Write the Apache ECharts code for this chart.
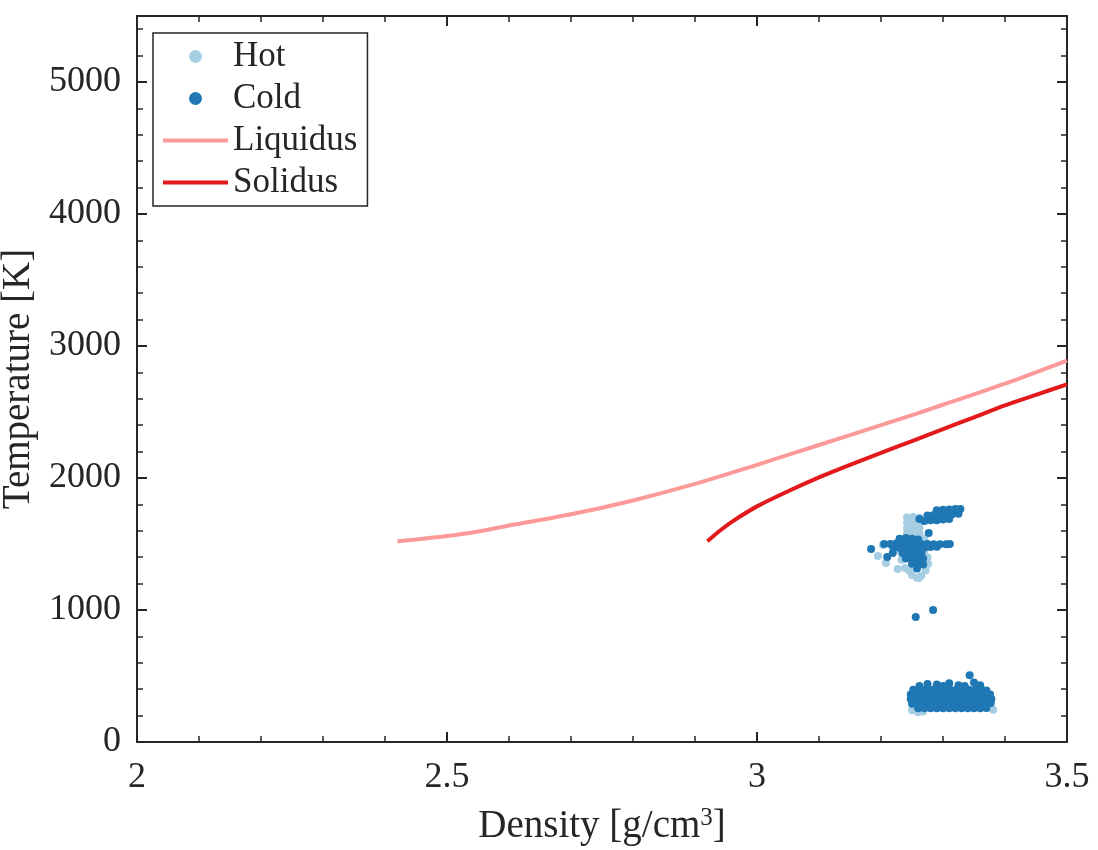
<!DOCTYPE html>
<html>
<head>
<meta charset="utf-8">
<script src="https://cdn.jsdelivr.net/npm/echarts@6/dist/echarts.min.js"></script>
<style>
  html, body { margin: 0; padding: 0; background: #fff; }
  #chart { width: 1098px; height: 850px; }
</style>
</head>
<body>
<div id="chart"></div>
<script>
// liquidus / solidus curves [density, temperature]
const liquidus = [
  [2.42, 1520], [2.5, 1560], [2.55, 1595], [2.6, 1640], [2.7, 1725], [2.8, 1830],
  [2.9, 1955], [3.0, 2100], [3.1, 2250], [3.2, 2400], [3.3, 2555], [3.4, 2715], [3.5, 2890]
]
const solidus = [
  [2.92, 1520], [2.94, 1600], [2.96, 1670], [3.0, 1785], [3.05, 1900], [3.1, 2005],
  [3.15, 2100], [3.2, 2190], [3.25, 2280], [3.3, 2370], [3.35, 2460], [3.4, 2550],
  [3.45, 2630], [3.5, 2710]
]

// hot particles (light blue)
const hot = [
  [3.242, 1700], [3.252, 1705], [3.262, 1700], [3.242, 1660], [3.252, 1660], [3.262, 1660],
  [3.242, 1620], [3.252, 1620], [3.262, 1620], [3.242, 1580], [3.252, 1580], [3.262, 1580],
  [3.245, 1540], [3.27, 1540], [3.27, 1450], [3.275, 1400], [3.276, 1350], [3.272, 1300],
  [3.265, 1260], [3.258, 1245], [3.245, 1300], [3.239, 1318], [3.227, 1311], [3.208, 1356],
  [3.195, 1409], [3.203, 1492], [3.25, 1265], [3.261, 1242], [3.233, 1380], [3.232, 1440],
  [3.25, 240], [3.26, 225], [3.268, 232], [3.256, 262], [3.381, 245], [3.372, 258]
]

// cold particles (dark blue)
const cold = [
  // upper group near 1700 K
  [3.262, 1690], [3.27, 1675], [3.28, 1680], [3.29, 1680], [3.30, 1685], [3.31, 1690],
  [3.275, 1715], [3.285, 1720], [3.295, 1720], [3.305, 1725], [3.315, 1725], [3.325, 1730],
  [3.29, 1755], [3.30, 1760], [3.31, 1762], [3.32, 1765], [3.328, 1765],
  // band near 1500 K
  [3.23, 1540], [3.24, 1545], [3.25, 1540], [3.26, 1535],
  [3.205, 1500], [3.215, 1500], [3.225, 1505], [3.235, 1505], [3.245, 1505], [3.255, 1500],
  [3.265, 1500], [3.275, 1500], [3.285, 1498], [3.295, 1498], [3.305, 1498], [3.311, 1500],
  [3.22, 1470], [3.23, 1470], [3.24, 1470], [3.25, 1470], [3.26, 1470], [3.27, 1472],
  [3.28, 1478], [3.29, 1480],
  [3.235, 1430], [3.245, 1430], [3.255, 1430], [3.265, 1430],
  [3.24, 1390], [3.25, 1390], [3.26, 1390], [3.268, 1390],
  [3.25, 1350], [3.26, 1350], [3.268, 1345], [3.258, 1315],
  [3.184, 1462], [3.21, 1401], [3.219, 1432], [3.277, 1583],
  [3.284, 1000], [3.256, 947],
  // lower group near 300 K
  [3.26, 255], [3.27, 255], [3.28, 255], [3.29, 255], [3.30, 255], [3.31, 255], [3.32, 255],
  [3.33, 255], [3.34, 255], [3.35, 255], [3.36, 255], [3.37, 258],
  [3.25, 290], [3.26, 290], [3.27, 290], [3.28, 290], [3.29, 290], [3.30, 290], [3.31, 290],
  [3.32, 290], [3.33, 290], [3.34, 290], [3.35, 290], [3.36, 290], [3.37, 290], [3.377, 295],
  [3.248, 325], [3.258, 325], [3.268, 325], [3.278, 325], [3.288, 325], [3.298, 325],
  [3.308, 325], [3.318, 325], [3.328, 325], [3.338, 325], [3.348, 325], [3.358, 325],
  [3.368, 325], [3.378, 325],
  [3.248, 360], [3.258, 360], [3.268, 360], [3.278, 360], [3.288, 360], [3.298, 360],
  [3.308, 360], [3.318, 360], [3.328, 360], [3.338, 360], [3.348, 360], [3.358, 360],
  [3.368, 360], [3.376, 360],
  [3.252, 395], [3.262, 395], [3.272, 395], [3.282, 395], [3.292, 395], [3.302, 395],
  [3.312, 395], [3.322, 395], [3.332, 395], [3.342, 395], [3.352, 395], [3.362, 395],
  [3.37, 390],
  [3.262, 425], [3.275, 440], [3.29, 435], [3.30, 425], [3.31, 445], [3.325, 430],
  [3.335, 425], [3.343, 505], [3.35, 450], [3.36, 430]
]

const xTicks = [2, 2.5, 3, 3.5]
const yTicks = [0, 1000, 2000, 3000, 4000, 5000]

const axisColor = '#262626'
const serif = 'Liberation Serif'
const lineIcon = 'path://M0,0H65V4H0Z'

const myChart = echarts.init(document.getElementById('chart'))

const xBase = {
  type: 'value',
  min: 2,
  max: 3.5,
  interval: 0.5,
  axisLine: { onZero: false, lineStyle: { color: axisColor, width: 2 } },
  axisTick: { inside: true, length: 10, lineStyle: { color: axisColor, width: 2 } },
  minorTick: { show: true, splitNumber: 5, length: 6, lineStyle: { color: axisColor, width: 1.5 } },
  splitLine: { show: false }
}
const yMajor = {
  type: 'value',
  min: 0,
  max: 5500,
  interval: 1000,
  axisLine: { onZero: false, lineStyle: { color: axisColor, width: 2 } },
  axisTick: { inside: true, length: 10, lineStyle: { color: axisColor, width: 2 } },
  splitLine: { show: false }
}
const yMinor = {
  type: 'value',
  min: 0,
  max: 5500,
  interval: 200,
  axisLine: { show: false },
  axisTick: { inside: true, length: 6, lineStyle: { color: axisColor, width: 1.5 } },
  axisLabel: { show: false },
  splitLine: { show: false }
}

const option = {
  animation: false,
  backgroundColor: '#fff',
  grid: { left: 137, right: 31, top: 16, bottom: 108, containLabel: false, outerBoundsMode: 'none' },
  legend: {
    orient: 'vertical',
    left: 153,
    top: 33,
    padding: [6, 10, 6, 10],
    itemGap: 7,
    itemWidth: 65,
    itemHeight: 13,
    symbolKeepAspect: true,
    borderColor: axisColor,
    borderWidth: 1.5,
    backgroundColor: '#fff',
    textStyle: { fontFamily: serif, fontSize: 35, lineHeight: 35, color: axisColor },
    data: [
      { name: 'Hot', icon: 'circle' },
      { name: 'Cold', icon: 'circle' },
      { name: 'Liquidus', icon: lineIcon },
      { name: 'Solidus', icon: lineIcon }
    ]
  },
  xAxis: [
    Object.assign({}, xBase, {
      position: 'bottom',
      name: 'Density [g/cm{sup|3}]',
      nameLocation: 'middle',
      nameGap: 64,
      nameTextStyle: {
        fontFamily: serif, fontSize: 39, color: axisColor,
        rich: { sup: { fontFamily: serif, fontSize: 25, color: axisColor, verticalAlign: 'bottom', padding: [0, 0, 16, 0] } }
      },
      axisLabel: {
        margin: 18, fontFamily: serif, fontSize: 36, color: axisColor,
        customValues: xTicks
      }
    }),
    Object.assign({}, xBase, { position: 'top', axisLabel: { show: false } })
  ],
  yAxis: [
    Object.assign({}, yMajor, {
      position: 'left',
      name: 'Temperature [K]',
      nameLocation: 'middle',
      nameGap: 84,
      nameTextStyle: { fontFamily: serif, fontSize: 39, color: axisColor },
      axisLabel: {
        margin: 16, fontFamily: serif, fontSize: 36, color: axisColor,
        showMaxLabel: false,
        formatter: v => (yTicks.indexOf(v) >= 0 ? String(v) : '')
      }
    }),
    Object.assign({}, yMinor, { position: 'left' }),
    Object.assign({}, yMajor, { position: 'right', axisLabel: { show: false } }),
    Object.assign({}, yMinor, { position: 'right' })
  ],
  series: [
    {
      name: 'Hot',
      type: 'scatter',
      symbol: 'circle',
      symbolSize: 8,
      itemStyle: { color: '#a6cee3', opacity: 1 },
      data: hot,
      z: 2
    },
    {
      name: 'Cold',
      type: 'scatter',
      symbol: 'circle',
      symbolSize: 8,
      itemStyle: { color: '#1f78b4', opacity: 1 },
      data: cold,
      z: 3
    },
    {
      name: 'Liquidus',
      type: 'line',
      symbol: 'none',
      showSymbol: false,
      smooth: 0.3,
      lineStyle: { color: '#fb9a99', width: 4 },
      itemStyle: { color: '#fb9a99' },
      data: liquidus,
      z: 4
    },
    {
      name: 'Solidus',
      type: 'line',
      symbol: 'none',
      showSymbol: false,
      smooth: 0.3,
      lineStyle: { color: '#e31a1c', width: 4 },
      itemStyle: { color: '#e31a1c' },
      data: solidus,
      z: 4
    }
  ]
}

myChart.setOption(option)
</script>
</body>
</html>
